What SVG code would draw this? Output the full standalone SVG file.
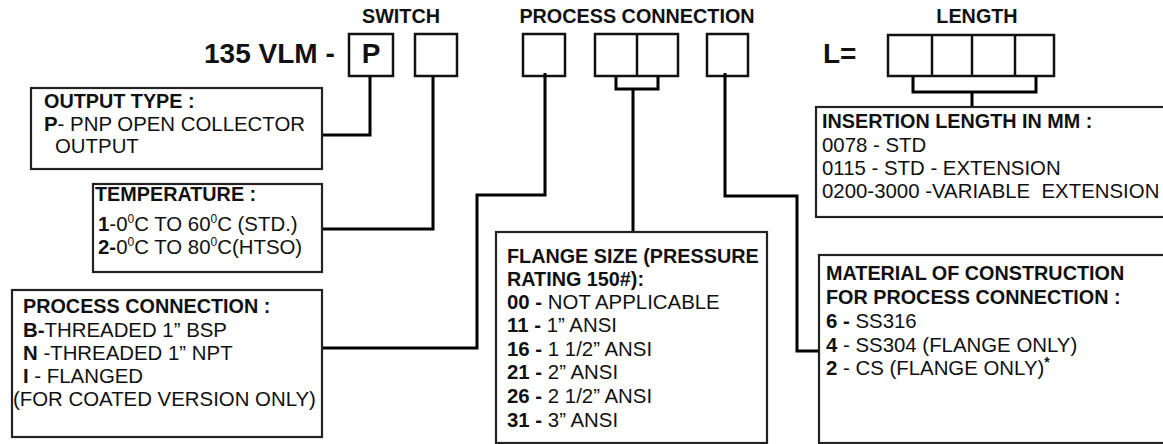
<svg xmlns="http://www.w3.org/2000/svg" width="1163" height="444" viewBox="0 0 1163 444">
<style>
text{font-family:"Liberation Sans",Arial,sans-serif;fill:#111}
.h{font-size:19.8px;font-weight:bold}
.b{font-size:20.4px}
.bb{font-weight:bold}
.big{font-size:28px;font-weight:bold}
.box{fill:none;stroke:#111;stroke-width:2.5}
.info{fill:#fff;stroke:#222;stroke-width:2.2}
.ln{fill:none;stroke:#000;stroke-width:3}
</style>
<rect width="1163" height="444" fill="#fff"/>
<g id="headings">
<text class="h" x="401" y="23" text-anchor="middle">SWITCH</text>
<text class="h" x="637" y="23" text-anchor="middle">PROCESS CONNECTION</text>
<text class="h" x="977" y="23" text-anchor="middle">LENGTH</text>
<text class="big" x="204" y="63">135 VLM -</text>
<text class="big" x="823" y="63">L=</text>
</g>
<g id="code-boxes">
<rect class="box" x="349" y="34" width="44" height="42"/>
<text class="big" x="371" y="63" text-anchor="middle">P</text>
<rect class="box" x="415" y="34" width="42" height="42"/>
<rect class="box" x="523" y="34" width="42" height="42"/>
<rect class="box" x="595" y="34" width="83" height="42"/>
<line class="box" x1="637" y1="34" x2="637" y2="76"/>
<rect class="box" x="707" y="34" width="41" height="42"/>
<rect class="box" x="888" y="35" width="166" height="41"/>
<line class="box" x1="932" y1="35" x2="932" y2="76"/>
<line class="box" x1="972" y1="35" x2="972" y2="76"/>
<line class="box" x1="1015" y1="35" x2="1015" y2="76"/>
</g>
<g id="connectors">
<path class="ln" d="M370,76 V135 H322"/>
<path class="ln" d="M433,76 V229 H322"/>
<path class="ln" d="M545,73 V195 H477 V348 H322"/>
<path class="ln" d="M616,76 V89 H658 V76 M633,89 V232"/>
<path class="ln" d="M725,73 V196 H797 V351 H819"/>
<path class="ln" d="M913,76 V92 H1036 V76 M972,92 V107"/>
</g>
<g id="output-type">
<rect class="info" x="31" y="88" width="291" height="81"/>
<text class="h" x="44" y="108">OUTPUT TYPE :</text>
<text class="b" x="44" y="131"><tspan class="bb">P</tspan>- PNP OPEN COLLECTOR</text>
<text class="b" x="55" y="153">OUTPUT</text>
</g>
<g id="temperature">
<rect class="info" x="93" y="184" width="229" height="88"/>
<text class="h" x="95" y="201">TEMPERATURE :</text>
<text class="b" x="98" y="231"><tspan class="bb">1</tspan>-0<tspan font-size="12" dy="-8">0</tspan><tspan dy="8">C TO 60</tspan><tspan font-size="12" dy="-8">0</tspan><tspan dy="8">C (STD.)</tspan></text>
<text class="b" x="98" y="254"><tspan class="bb">2-</tspan>0<tspan font-size="12" dy="-8">0</tspan><tspan dy="8">C TO 80</tspan><tspan font-size="12" dy="-8">0</tspan><tspan dy="8">C(HTSO)</tspan></text>
</g>
<g id="process-connection">
<rect class="info" x="12" y="290" width="310" height="147"/>
<text class="h" x="23" y="313">PROCESS CONNECTION :</text>
<text class="b" x="23" y="337"><tspan class="bb">B-</tspan>THREADED 1” BSP</text>
<text class="b" x="23" y="360"><tspan class="bb">N</tspan> -THREADED 1” NPT</text>
<text class="b" x="23" y="383"><tspan class="bb">I</tspan> - FLANGED</text>
<text class="b" x="13" y="406">(FOR COATED VERSION ONLY)</text>
</g>
<g id="flange-size">
<rect class="info" x="496" y="232" width="271" height="211"/>
<text class="h" x="507" y="263">FLANGE SIZE (PRESSURE</text>
<text class="h" x="507" y="286">RATING 150#):</text>
<text class="b" x="507" y="309"><tspan class="bb">00 -</tspan> NOT APPLICABLE</text>
<text class="b" x="507" y="332"><tspan class="bb">11 -</tspan> 1” ANSI</text>
<text class="b" x="507" y="356"><tspan class="bb">16 -</tspan> 1 1/2” ANSI</text>
<text class="b" x="507" y="379"><tspan class="bb">21 -</tspan> 2” ANSI</text>
<text class="b" x="507" y="403"><tspan class="bb">26 -</tspan> 2 1/2” ANSI</text>
<text class="b" x="507" y="427"><tspan class="bb">31 -</tspan> 3” ANSI</text>
</g>
<g id="insertion-length">
<rect class="info" x="816" y="107" width="360" height="110"/>
<text class="h" x="822" y="128">INSERTION LENGTH IN MM :</text>
<text class="b" x="822" y="152">0078 - STD</text>
<text class="b" x="822" y="175">0115 - STD - EXTENSION</text>
<text class="b" x="822" y="198">0200-3000 -VARIABLE&#160; EXTENSION</text>
</g>
<g id="material">
<rect class="info" x="819" y="255" width="360" height="188"/>
<text class="h" x="826" y="280">MATERIAL OF CONSTRUCTION</text>
<text class="h" x="826" y="304">FOR PROCESS CONNECTION :</text>
<text class="b" x="826" y="328"><tspan class="bb">6 -</tspan> SS316</text>
<text class="b" x="826" y="352"><tspan class="bb">4</tspan> - SS304 (FLANGE ONLY)</text>
<text class="b" x="826" y="375"><tspan class="bb">2</tspan> - CS (FLANGE ONLY)<tspan class="bb" font-size="14" dy="-8">*</tspan></text>
</g>
</svg>
